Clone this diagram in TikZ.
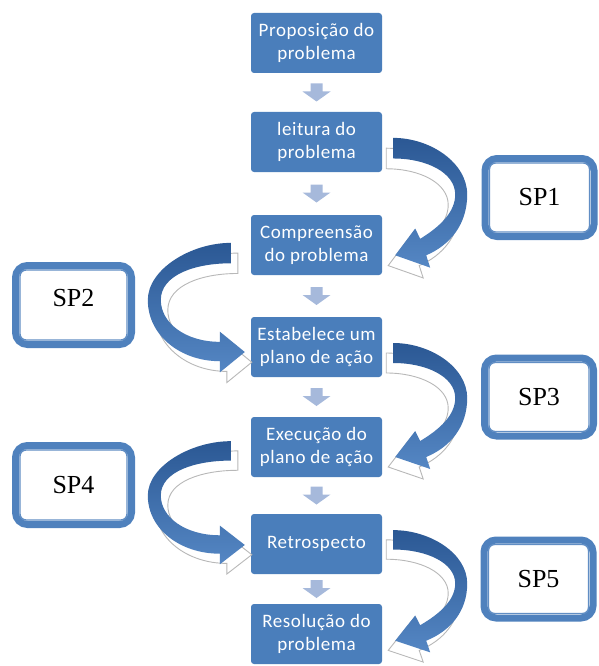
\documentclass[tikz,border=0pt]{standalone}
\usepackage{fontspec}
\setmainfont{Liberation Serif}
\newfontfamily\passo{Carlito}[LetterSpace=3]
\usetikzlibrary{calc}

\definecolor{caixa}{HTML}{4A7EBB}
\definecolor{setinha}{HTML}{A6B9DB}
\definecolor{curvaesc}{HTML}{2B5894}
\definecolor{curvacla}{HTML}{5587C4}
\definecolor{moldura}{HTML}{4F81BD}

% contorno das setas curvas (x para fora da caixa, y para baixo)
\newcommand\contornoD{(11,-4) .. controls (48,-4) and (85,20) .. (85,51)
  .. controls (85,80) and (68,100) .. (44,110) -- (48,122) -- (13,110) -- (33,84)
  -- (38,94) .. controls (58,82) and (73,68) .. (73,51)
  .. controls (73,30) and (45,16) .. (11,16) -- cycle}
\newcommand\contornoE{(20,-6) .. controls (60,-6) and (103,20) .. (103,50)
  .. controls (103,85) and (70,110) .. (31,110) -- (31,121) -- (6,101) -- (31,81)
  -- (31,91) .. controls (66,91) and (90,72) .. (90,50)
  .. controls (90,25) and (55,14) .. (20,14) -- cycle}

\tikzset{
  etapa/.style={fill=caixa, rounded corners=3pt, minimum width=131pt, minimum height=60pt,
    inner sep=0pt, align=center, text=white, font=\passo\fontsize{19}{23}\selectfont},
  sp/.style={draw=moldura, line width=7pt, rounded corners=12pt, fill=white, inner sep=0pt,
    font=\fontsize{26}{30}\selectfont},
  spdir/.style={sp, minimum width=109pt, minimum height=78pt},
  spesq/.style={sp, minimum width=116pt, minimum height=79pt},
  filete/.style={draw=moldura!90, line width=1.4pt, rounded corners=6pt},
  sombra/.style={fill=white, draw=black!28, line width=0.9pt},
  curva/.style={top color=curvaesc, bottom color=curvacla},
  desce/.pic={
    \fill[setinha] (-6,-9) -- (6,-9) -- (6,-1) -- (14,-1) -- (0,9) -- (-14,-1) -- (-6,-1) -- cycle;
  },
  curvaD/.pic={
    \filldraw[sombra, shift={(-7,10)}] \contornoD;
    \shade[curva] \contornoD;
  },
  curvaE/.pic={
    \begin{scope}[xscale=-1]
      \filldraw[sombra, shift={(-7,10)}] \contornoE;
      \shade[curva] \contornoE;
    \end{scope}
  },
}

\begin{document}
\begin{tikzpicture}[x=1pt, y=-1pt]
\useasboundingbox (0,0) rectangle (598,666);

% etapas
\node[etapa] (e1) at (316.5,43) {Proposição do\\problema};
\node[etapa] (e2) at (316.5,142) {leitura do\\problema};
\node[etapa] (e3) at (316.5,245) {Compreensão\\do problema};
\node[etapa] (e4) at (316.5,347) {Estabelece um\\plano de ação};
\node[etapa] (e5) at (316.5,447) {Execução do\\plano de ação};
\node[etapa] (e6) at (316.5,544) {Retrospecto};
\node[etapa] (e7) at (316.5,634) {Resolução do\\problema};

% setas entre etapas
\foreach \a/\b in {e1/e2, e2/e3, e3/e4, e4/e5, e5/e6, e6/e7}
  \pic at ($(\a.south)!0.5!(\b.north)$) {desce};

% setas curvas
\pic[yscale=1.03] at (e2.east) {curvaD};
\pic[yscale=1.02] at ([yshift=-4pt]e3.west) {curvaE};
\pic at (e4.east) {curvaD};
\pic[yscale=0.97] at (e5.west) {curvaE};
\pic[yscale=0.97] at ([yshift=10pt]e6.east) {curvaD};

% subproblemas
\node[spdir] (s1) at (539.5,197.5) {SP1};
\node[spesq] (s2) at (73.5,305) {\raisebox{14pt}{SP2}};
\node[spdir] (s3) at (539,397) {SP3};
\node[spesq] (s4) at (73.5,485) {SP4};
\node[spdir] (s5) at (538.5,579) {SP5};
\foreach \s in {s1,s2,s3,s4,s5}
  \draw[filete] ($(\s.north west)+(8,8)$) rectangle ($(\s.south east)+(-8,-8)$);

\end{tikzpicture}
\end{document}
